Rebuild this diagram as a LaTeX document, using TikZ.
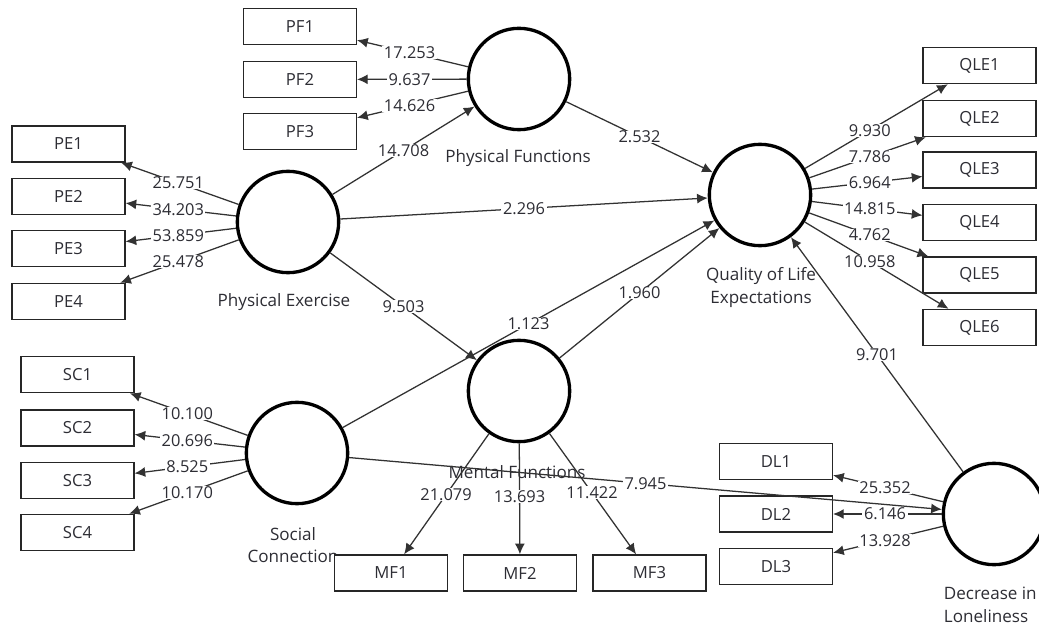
\documentclass[tikz,border=0pt]{standalone}
\usepackage{fontspec}
\setmainfont{Open Sans}
\usetikzlibrary{arrows.meta,calc}
\definecolor{txt}{RGB}{45,45,52}
\definecolor{ln}{RGB}{50,50,50}
\begin{document}
\begin{tikzpicture}[x=0.75pt,y=-0.75pt,
  lat/.style={circle,draw=black,line width=2.5pt,minimum size=76pt,inner sep=0pt},
  ind/.style={rectangle,draw=black!85,line width=1.1pt,minimum width=84.5pt,minimum height=27pt,inner sep=0pt,fill=white,font=\fontsize{12.5}{14}\selectfont,text=txt},
  latname/.style={font=\fontsize{12.8}{17}\selectfont,text=txt,align=center,inner sep=0pt},
  arr/.style={draw=ln,line width=0.95pt,-{Latex[length=8pt,width=7.5pt]}},
  lbl/.style={fill=white,inner xsep=1.2pt,inner ysep=0.3pt,font=\fontsize{12.3}{14}\selectfont,text=txt}]
\useasboundingbox (0,0) rectangle (1039,627);
\fill[white] (0,0) rectangle (1039,627);

% latent variable names
\node[latname] (pfname) at (518,158) {Physical Functions};
\node[latname] (pename) at (284,302) {Physical Exercise};
\node[latname] (qlename) at (761,287.5) {Quality of Life\\Expectations};
\node[latname] (scname) at (293,545) {Social\\Connection};
\node[latname] (mfname) at (517,472) {Mental Functions};
\node[latname,anchor=east,align=left] (dlname) at (1037,605) {Decrease in\\Loneliness};

% indicator boxes
\node[ind] (pf1) at (300,26.5) {PF1};
\node[ind] (pf2) at (300,79.5) {PF2};
\node[ind] (pf3) at (300,131.5) {PF3};
\node[ind] (pe1) at (68.5,144) {PE1};
\node[ind] (pe2) at (68.5,196.5) {PE2};
\node[ind] (pe3) at (68.5,248.5) {PE3};
\node[ind] (pe4) at (68.5,301.5) {PE4};
\node[ind] (qle1) at (979.5,65.5) {QLE1};
\node[ind] (qle2) at (979.5,118.5) {QLE2};
\node[ind] (qle3) at (979.5,170) {QLE3};
\node[ind] (qle4) at (979.5,222.5) {QLE4};
\node[ind] (qle5) at (979.5,275) {QLE5};
\node[ind] (qle6) at (979.5,327.5) {QLE6};
\node[ind] (sc1) at (77.5,374.5) {SC1};
\node[ind] (sc2) at (77.5,428) {SC2};
\node[ind] (sc3) at (77.5,480.5) {SC3};
\node[ind] (sc4) at (77.5,532.5) {SC4};
\node[ind] (mf1) at (391,573) {MF1};
\node[ind] (mf2) at (520,573) {MF2};
\node[ind] (mf3) at (649.5,573) {MF3};
\node[ind] (dl1) at (776,461.5) {DL1};
\node[ind] (dl2) at (776,514) {DL2};
\node[ind] (dl3) at (776,566.5) {DL3};

% latent circles
\node[lat] (pf) at (519,79) {};
\node[lat] (pe) at (288,222) {};
\node[lat] (qle) at (760,195) {};
\node[lat] (sc) at (297,453) {};
\node[lat] (mf) at (519,391) {};
\node[lat] (dl) at (994,514) {};

% outer loadings
\foreach \a/\b in {pf/pf1,pf/pf2,pf/pf3,pe/pe1,pe/pe2,pe/pe3,pe/pe4,
  qle/qle1,qle/qle2,qle/qle3,qle/qle4,qle/qle5,qle/qle6,
  sc/sc1,sc/sc2,sc/sc3,sc/sc4,mf/mf1,mf/mf2,mf/mf3,dl/dl1,dl/dl2,dl/dl3}
  \draw[arr] (\a) -- (\b);

% structural paths
\draw[arr] (pe) -- (pf);
\draw[arr] (pe) -- (qle);
\draw[arr] (pe) -- (mf);
\draw[arr] (pf) -- (qle);
\draw[arr] (mf) -- (qle);
\draw[arr] (sc) -- (qle);
\draw[arr] (sc) -- (dl);
\draw[arr] (dl) -- (qle);

% labels
\node[lbl] at ($(pf)!0.5!(pf1)$) {17.253};
\node[lbl] at ($(pf)!0.5!(pf2)$) {9.637};
\node[lbl] at ($(pf)!0.5!(pf3)$) {14.626};
\node[lbl] at ($(pe)!0.5!(pe1)$) {25.751};
\node[lbl] at ($(pe)!0.5!(pe2)$) {34.203};
\node[lbl] at ($(pe)!0.5!(pe3)$) {53.859};
\node[lbl] at ($(pe)!0.5!(pe4)$) {25.478};
\node[lbl] at ($(qle)!0.5!(qle1)$) {9.930};
\node[lbl] at ($(qle)!0.5!(qle2)$) {7.786};
\node[lbl] at ($(qle)!0.5!(qle3)$) {6.964};
\node[lbl] at ($(qle)!0.5!(qle4)$) {14.815};
\node[lbl] at ($(qle)!0.5!(qle5)$) {4.762};
\node[lbl] at ($(qle)!0.5!(qle6)$) {10.958};
\node[lbl] at ($(sc)!0.5!(sc1)$) {10.100};
\node[lbl] at ($(sc)!0.5!(sc2)$) {20.696};
\node[lbl] at ($(sc)!0.5!(sc3)$) {8.525};
\node[lbl] at ($(sc)!0.5!(sc4)$) {10.170};
\node[lbl] at ($(mf)!0.57!(mf1)$) {21.079};
\node[lbl] at ($(mf)!0.58!(mf2)$) {13.693};
\node[lbl] at ($(mf)!0.56!(mf3)$) {11.422};
\node[lbl] at ($(dl)!0.5!(dl1)$) {25.352};
\node[lbl] at ($(dl)!0.5!(dl2)$) {6.146};
\node[lbl] at ($(dl)!0.5!(dl3)$) {13.928};
\node[lbl] at ($(pe)!0.5!(pf)$) {14.708};
\node[lbl] at ($(pe)!0.5!(qle)$) {2.296};
\node[lbl] at ($(pe)!0.5!(mf)$) {9.503};
\node[lbl] at ($(pf)!0.5!(qle)$) {2.532};
\node[lbl] at ($(mf)!0.5!(qle)$) {1.960};
\node[lbl] at ($(sc)!0.5!(qle)$) {1.123};
\node[lbl] at ($(sc)!0.5!(dl)$) {7.945};
\node[lbl] at ($(dl)!0.5!(qle)$) {9.701};
\end{tikzpicture}
\end{document}
